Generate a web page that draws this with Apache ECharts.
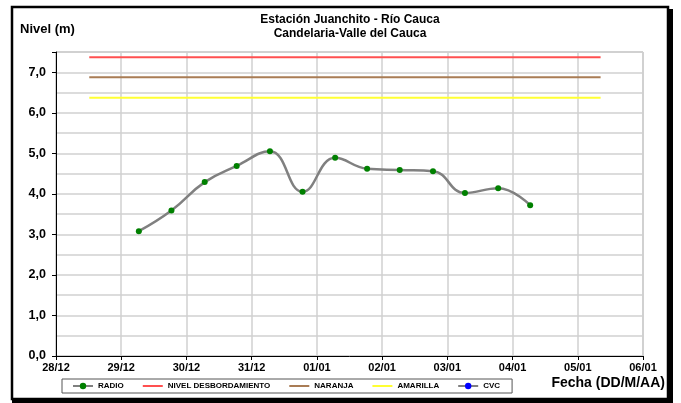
<!DOCTYPE html>
<html><head><meta charset="utf-8">
<script src="https://cdn.jsdelivr.net/npm/echarts@6/dist/echarts.min.js"></script>
<style>html,body{margin:0;padding:0;background:#fff}#c{width:681px;height:403px}</style>
</head><body><div id="c"></div>
<script>
// x tick labels (one per day, starting 28/12)
const dayLabels = ["28/12","29/12","30/12","31/12","01/01","02/01","03/01","04/01","05/01","06/01"];
// RADIO readings: x = days after 28/12 00:00, y = level (m)
const radioDays = [1.27,1.77,2.28,2.77,3.28,3.78,4.28,4.77,5.27,5.78,6.27,6.78,7.27];
const radioLevels = [3.08,3.59,4.29,4.69,5.05,4.05,4.89,4.62,4.59,4.56,4.02,4.14,3.72];
// threshold levels and their x span
const thresholdSpan = [0.51, 8.35];
const nivelDesbordamiento = 7.37;
const naranja = 6.88;
const amarilla = 6.37;
const cvcDays = [];
const cvcLevels = [];

const F = '"Liberation Sans", Arial, sans-serif';
const chart = echarts.init(document.getElementById('c'));
const hline = (v) => thresholdSpan.map(x => [x, v]);
const noSym = {color: 'rgba(0,0,0,0)', borderWidth: 0, opacity: 0};
chart.setOption({
  animation: false,
  textStyle: {fontFamily: F},
  title: {
    text: 'Estación Juanchito - Río Cauca\nCandelaria-Valle del Cauca',
    left: 345, top: 8, textAlign: 'center',
    textStyle: {fontFamily: F, fontSize: 12, fontWeight: 'bold', color: '#000', lineHeight: 14}
  },
  grid: {left: 56, right: 38, top: 52, bottom: 47, show: true, borderColor: '#a6a6a6', borderWidth: 1},
  legend: {
    left: 62, top: 379, itemWidth: 20, itemHeight: 8, itemGap: 18,
    padding: [3, 12, 3, 10],
    borderColor: '#555', borderWidth: 1,
    textStyle: {fontFamily: F, fontSize: 8, fontWeight: 'bold', color: '#000'},
    data: [
      {name: 'RADIO'},
      {name: 'NIVEL DESBORDAMIENTO', itemStyle: noSym},
      {name: 'NARANJA', itemStyle: noSym},
      {name: 'AMARILLA', itemStyle: noSym},
      {name: 'CVC'}
    ]
  },
  xAxis: {
    type: 'value', min: 0, max: 9, interval: 1,
    axisLine: {lineStyle: {color: '#000', width: 1}},
    axisTick: {show: true, length: 4, lineStyle: {color: '#000'}},
    axisLabel: {formatter: v => dayLabels[Math.round(v)] || '', fontFamily: F, fontSize: 11, fontWeight: 'bold', color: '#000', margin: 6},
    splitLine: {show: true, lineStyle: {color: '#d0d0d0', width: 1.5}}
  },
  yAxis: [{
    type: 'value', min: 0, max: 7.5, interval: 0.5,
    axisLine: {show: true, lineStyle: {color: '#000', width: 1}},
    axisTick: {show: false},
    axisLabel: {formatter: v => (Math.abs(v - Math.round(v)) < 1e-6 ? v.toFixed(1).replace('.', ',') : ''), fontFamily: F, fontSize: 12.5, fontWeight: 'bold', color: '#000', margin: 10},
    splitLine: {show: true, lineStyle: {color: '#d0d0d0', width: 1.5}}
  }, {
    type: 'value', min: 0, max: 7.5, interval: 1, position: 'left',
    axisLine: {show: false}, axisLabel: {show: false}, splitLine: {show: false},
    axisTick: {show: true, length: 4, lineStyle: {color: '#000'}}
  }],
  series: [
    {name: 'RADIO', type: 'line', smooth: 0.45, data: radioDays.map((d, i) => [d, radioLevels[i]]),
     lineStyle: {color: '#808080', width: 2.5}, itemStyle: {color: '#008000'},
     symbol: 'circle', symbolSize: 6, z: 5},
    {name: 'NIVEL DESBORDAMIENTO', type: 'line', symbol: 'none', data: hline(nivelDesbordamiento),
     lineStyle: {color: '#ff5050', width: 2}, itemStyle: {color: '#ff5050'}},
    {name: 'NARANJA', type: 'line', symbol: 'none', data: hline(naranja),
     lineStyle: {color: '#a97c55', width: 2}, itemStyle: {color: '#a97c55'}},
    {name: 'AMARILLA', type: 'line', symbol: 'none', data: hline(amarilla),
     lineStyle: {color: '#ffff33', width: 2}, itemStyle: {color: '#ffff33'}},
    {name: 'CVC', type: 'line', symbol: 'circle', symbolSize: 6, data: cvcDays.map((d, i) => [d, cvcLevels[i]]),
     lineStyle: {color: '#808080', width: 2}, itemStyle: {color: '#0000ff'}}
  ],
  graphic: [
    {type: 'rect', shape: {x: 12, y: 7, width: 656, height: 392}, style: {fill: 'none', stroke: '#000', lineWidth: 2.5}, silent: true},
    {type: 'rect', shape: {x: 667, y: 9, width: 6, height: 394}, style: {fill: '#000'}, silent: true},
    {type: 'rect', shape: {x: 12, y: 398, width: 661, height: 5}, style: {fill: '#000'}, silent: true},
    {type: 'text', left: 20, top: 23, style: {text: 'Nivel (m)', font: 'bold 13px ' + F, fill: '#000'}},
    {type: 'text', right: 16, top: 376, style: {text: 'Fecha (DD/M/AA)', font: 'bold 14px ' + F, fill: '#000'}}
  ]
});
</script></body></html>
